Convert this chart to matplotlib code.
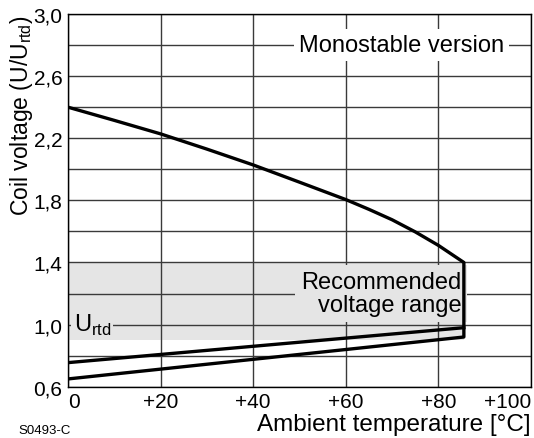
import numpy as np
import matplotlib
matplotlib.use("Agg")
import matplotlib.pyplot as plt
from matplotlib import font_manager as fm

# values
temp_upper = [0, 10, 20, 30, 40, 50, 60, 65, 70, 75, 80, 85.5]
volt_upper = [2.40, 2.315, 2.228, 2.13, 2.028, 1.917, 1.805, 1.742, 1.675, 1.597, 1.51, 1.40]
temp_mid = [0, 85.5]
volt_mid = [0.755, 0.98]
temp_low = [0, 85.5]
volt_low = [0.65, 0.92]
band_temp = [0, 85.5]
band_lo, band_hi = 0.9, 1.4

xticks = [0, 20, 40, 60, 80, 100]
xticklabels = ["0", "+20", "+40", "+60", "+80", "+100"]
yticks = [0.6, 1.0, 1.4, 1.8, 2.2, 2.6, 3.0]
yticklabels = ["0,6", "1,0", "1,4", "1,8", "2,2", "2,6", "3,0"]
ygrid = np.arange(0.6, 3.01, 0.2)

names = {f.name for f in fm.fontManager.ttflist}
main_font = "Liberation Sans" if "Liberation Sans" in names else "DejaVu Sans"
plt.rcParams['font.family'] = [main_font]
plt.rcParams['mathtext.fontset'] = 'custom'
plt.rcParams['mathtext.rm'] = main_font

band_col = '#e5e5e5'
grid_col = '#3a3a3a'

fig = plt.figure(figsize=(5.34, 4.39), dpi=100)
ax = fig.add_axes([68/534, (439-387.7)/439, (531-68)/534, (387.7-15)/439])
ax.set_xlim(0, 100)
ax.set_ylim(0.6, 3.0)

# grey band of recommended range
ax.fill_between(band_temp, band_lo, band_hi, color=band_col, lw=0, zorder=0.5)

for yv in ygrid:
	ax.axhline(yv, color=grid_col, lw=1.0, zorder=1)
for xv in xticks:
	ax.axvline(xv, color=grid_col, lw=1.0, zorder=1)

# outline: upper curve, down the right edge, lower line back
ox = temp_upper + [temp_low[1], temp_low[0]]
oy = volt_upper + [volt_low[1], volt_low[0]]
ax.plot(ox, oy, color='k', lw=2.4, solid_joinstyle='round', zorder=4)
ax.plot(temp_mid, volt_mid, color='k', lw=2.4, zorder=4)

ax.text(72, 2.8, "Monostable version", fontsize=17, ha='center', va='center',
	bbox=dict(boxstyle='square,pad=0.22', fc='white', ec='none'), zorder=3)
ax.text(85, 1.2, "Recommended\nvoltage range", fontsize=17, ha='right', va='center',
	ma='right', linespacing=1.05,
	bbox=dict(boxstyle='square,pad=0.25', fc=band_col, ec='none'), zorder=3)
ax.text(1.2, 1.0, r"U$_\mathregular{rtd}$", fontsize=17, ha='left', va='center',
	bbox=dict(boxstyle='square,pad=0.1', fc=band_col, ec='none'), zorder=3)

ax.set_xticks(xticks)
ax.set_xticklabels(xticklabels)
ax.set_yticks(yticks)
ax.set_yticklabels(yticklabels)
ax.tick_params(length=0, labelsize=15, pad=4, colors='k')
xl = ax.get_xticklabels()
xl[0].set_ha('left')
xl[-1].set_ha('right')
for s in ax.spines.values():
	s.set_linewidth(1.0)
	s.set_zorder(5)

ax.set_xlabel("Ambient temperature [°C]", fontsize=17.5, labelpad=1, loc='right')
ax.set_ylabel(r"Coil voltage (U/U$_\mathregular{rtd}$)", fontsize=16.5, loc='top')
ax.yaxis.set_label_coords(-0.072, 1.0)

fig.text(18/534, 1-431/439, "S0493-C", fontsize=9.5, va='center', ha='left')

fig.savefig("out.png", dpi=100)
